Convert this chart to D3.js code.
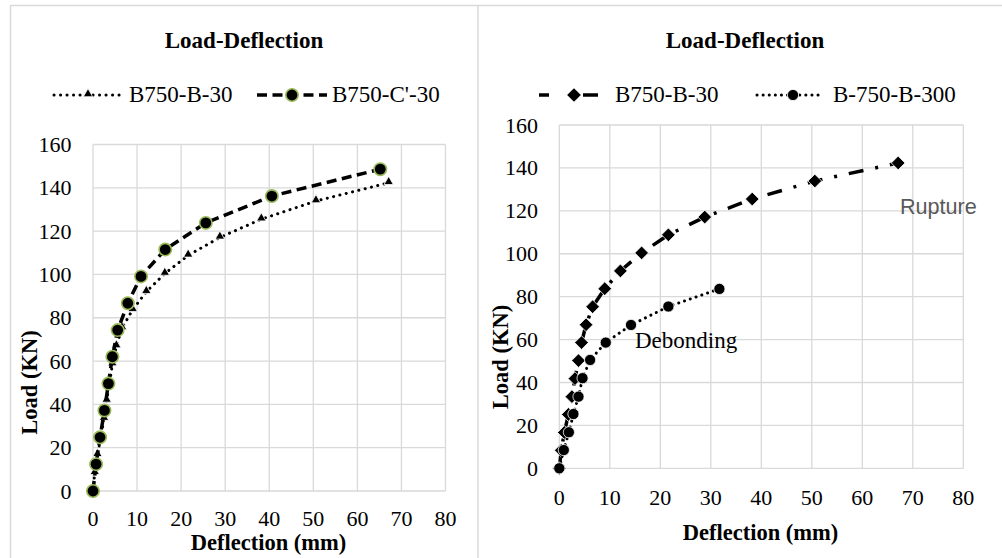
<!DOCTYPE html>
<html>
<head>
<meta charset="utf-8">
<script src="https://cdn.jsdelivr.net/npm/d3@7"></script>
<style>
  html, body { margin: 0; padding: 0; background: #fff; }
  svg { display: block; }
  text { font-family: "Liberation Serif", "Times New Roman", serif; fill: #000; }
</style>
</head>
<body>
<svg id="chart" width="1002" height="558"></svg>
<script>
// ---------- data ----------
const xTicks = [0, 10, 20, 30, 40, 50, 60, 70, 80];
const yTicks = [0, 20, 40, 60, 80, 100, 120, 140, 160];

// B750-B-30 (appears in both charts)
const b30Defl = [0, 0.4, 1.0, 1.8, 2.5, 3.1, 3.8, 4.4, 5.3, 6.6, 9.0, 12.1, 16.3, 21.6, 28.8, 38.2, 50.6, 67.1];
const b30Load = [0, 8.4, 16.7, 25.1, 33.4, 41.8, 50.2, 58.6, 66.9, 75.3, 83.7, 92.0, 100.4, 108.8, 117.1, 125.5, 133.9, 142.3];

// B750-C'-30
const c30Defl = [0, 0.7, 1.6, 2.6, 3.5, 4.4, 5.6, 7.9, 10.9, 16.4, 25.6, 40.6, 65.2];
const c30Load = [0, 12.4, 24.8, 37.2, 49.6, 62.0, 74.3, 86.7, 99.1, 111.5, 123.8, 136.2, 148.6];

// B-750-B-300
const b300Defl = [0, 0.9, 1.9, 2.8, 3.8, 4.6, 6.1, 9.2, 14.2, 21.6, 31.7];
const b300Load = [0, 8.5, 16.8, 25.3, 33.4, 42.0, 50.5, 58.6, 66.8, 75.4, 83.6];

const titleText = "Load-Deflection";
const xTitle = "Deflection (mm)";
const yTitle = "Load (KN)";
const leftSeriesNames = ["B750-B-30", "B750-C'-30"];
const rightSeriesNames = ["B750-B-30", "B-750-B-300"];

const zip = (xs, ys) => xs.map((x, i) => [x, ys[i]]);

// ---------- drawing ----------
const svg = d3.select("#chart");
const gridColor = "#d9d9d9";
const FS = 23;      // titles / legend
const FT = 22;      // tick labels
const FA = 22.5;    // axis titles

// outer frame
svg.append("line").attr("x1", 10).attr("x2", 1002).attr("y1", 5.5).attr("y2", 5.5)
  .attr("stroke", gridColor).attr("stroke-width", 1.5);
svg.append("line").attr("x1", 10.5).attr("x2", 10.5).attr("y1", 5).attr("y2", 558)
  .attr("stroke", gridColor).attr("stroke-width", 1.5);
svg.append("line").attr("x1", 478).attr("x2", 478).attr("y1", 5).attr("y2", 558)
  .attr("stroke", gridColor).attr("stroke-width", 1.5);

function panel(cfg) {
  const x = d3.scaleLinear().domain([0, 80]).range(cfg.xr);
  const y = d3.scaleLinear().domain([0, 160]).range(cfg.yr);
  const g = svg.append("g");

  // grid
  g.selectAll(".vg").data(xTicks).join("line")
    .attr("x1", d => x(d)).attr("x2", d => x(d))
    .attr("y1", y(0)).attr("y2", y(160))
    .attr("stroke", gridColor).attr("stroke-width", 1.3);
  g.selectAll(".hg").data(yTicks).join("line")
    .attr("x1", x(0)).attr("x2", x(80))
    .attr("y1", d => y(d)).attr("y2", d => y(d))
    .attr("stroke", gridColor).attr("stroke-width", 1.3);

  // tick labels
  g.selectAll(".xl").data(xTicks).join("text")
    .attr("x", d => x(d)).attr("y", cfg.xLabBase)
    .attr("text-anchor", "middle").attr("font-size", FT).text(d => d);
  g.selectAll(".yl").data(yTicks).join("text")
    .attr("x", cfg.yLabRight).attr("y", d => y(d) + 7.5)
    .attr("text-anchor", "end").attr("font-size", FT).text(d => d);

  // titles
  g.append("text").attr("x", cfg.titleX).attr("y", 48)
    .attr("text-anchor", "middle").attr("font-size", FS).attr("font-weight", "bold").text(titleText);
  g.append("text").attr("x", cfg.xTitleX).attr("y", cfg.xTitleY)
    .attr("text-anchor", "middle").attr("font-size", FA).attr("font-weight", "bold").text(xTitle);
  g.append("text").attr("transform", `translate(${cfg.yTitleX},${cfg.yTitleY}) rotate(-90)`)
    .attr("text-anchor", "middle").attr("font-size", FA).attr("font-weight", "bold").text(yTitle);

  return { x, y, g };
}

const line = (x, y) => d3.line().x(d => x(d[0])).y(d => y(d[1]));

// ===== Left chart =====
const L = panel({
  xr: [93, 445.5], yr: [491, 144.5],
  xLabBase: 525.5, yLabRight: 71.5,
  titleX: 244, xTitleX: 268.5, xTitleY: 550,
  yTitleX: 36.5, yTitleY: 382.5
});
const triSym = d3.symbol().type(d3.symbolTriangle).size(38);
const dataB30 = zip(b30Defl, b30Load);
const dataC30 = zip(c30Defl, c30Load);

// B750-B-30 dotted with triangles
L.g.append("path").datum(dataB30).attr("d", line(L.x, L.y))
  .attr("fill", "none").attr("stroke", "#000").attr("stroke-width", 3)
  .attr("stroke-linecap", "round").attr("stroke-dasharray", "0.1 6.4");
L.g.selectAll(".tri").data(dataB30).join("path")
  .attr("d", triSym).attr("transform", d => `translate(${L.x(d[0])},${L.y(d[1]) - 1})`)
  .attr("fill", "#000").attr("stroke", "#fff").attr("stroke-width", 0.8);

// B750-C'-30 dashed with circles
L.g.append("path").datum(dataC30).attr("d", line(L.x, L.y))
  .attr("fill", "none").attr("stroke", "#000").attr("stroke-width", 3.5)
  .attr("stroke-dasharray", "10 5.5");
L.g.selectAll(".circ").data(dataC30).join("circle")
  .attr("cx", d => L.x(d[0])).attr("cy", d => L.y(d[1])).attr("r", 6.2)
  .attr("fill", "#000").attr("stroke", "#9bbb59").attr("stroke-width", 1.6);

// left legend
const ly = 95;
L.g.append("line").attr("x1", 54).attr("x2", 122).attr("y1", ly).attr("y2", ly)
  .attr("stroke", "#000").attr("stroke-width", 3).attr("stroke-linecap", "round")
  .attr("stroke-dasharray", "0.1 6.4");
L.g.append("path").attr("d", triSym).attr("transform", `translate(88,${ly - 1})`)
  .attr("fill", "#000").attr("stroke", "#fff").attr("stroke-width", 0.8);
L.g.append("text").attr("x", 129).attr("y", 101.5).attr("font-size", FS).text(leftSeriesNames[0]);
L.g.append("line").attr("x1", 257).attr("x2", 327).attr("y1", ly).attr("y2", ly)
  .attr("stroke", "#000").attr("stroke-width", 3.5).attr("stroke-dasharray", "10 5.5");
L.g.append("circle").attr("cx", 292).attr("cy", ly).attr("r", 6.2)
  .attr("fill", "#000").attr("stroke", "#9bbb59").attr("stroke-width", 1.6);
L.g.append("text").attr("x", 332).attr("y", 101.5).attr("font-size", FS).text(leftSeriesNames[1]);

// ===== Right chart =====
const R = panel({
  xr: [559.3, 963.3], yr: [468.3, 125],
  xLabBase: 505, yLabRight: 538,
  titleX: 745, xTitleX: 760.5, xTitleY: 540,
  yTitleX: 508, yTitleY: 357
});
const diaSym = d3.symbol().type(d3.symbolDiamond2).size(120);
const dataB300 = zip(b300Defl, b300Load);

// B750-B-30 dash-dot with diamonds
R.g.append("path").datum(dataB30).attr("d", line(R.x, R.y))
  .attr("fill", "none").attr("stroke", "#000").attr("stroke-width", 3.5)
  .attr("stroke-dasharray", "15 12 3 12");
R.g.selectAll(".dia").data(dataB30).join("path")
  .attr("d", diaSym).attr("transform", d => `translate(${R.x(d[0])},${R.y(d[1])})`)
  .attr("fill", "#000").attr("stroke", "#fff").attr("stroke-width", 0.8);

// B-750-B-300 dotted with circles
R.g.append("path").datum(dataB300).attr("d", line(R.x, R.y))
  .attr("fill", "none").attr("stroke", "#000").attr("stroke-width", 3)
  .attr("stroke-linecap", "round").attr("stroke-dasharray", "0.1 6");
R.g.selectAll(".c300").data(dataB300).join("circle")
  .attr("cx", d => R.x(d[0])).attr("cy", d => R.y(d[1])).attr("r", 5.6)
  .attr("fill", "#000").attr("stroke", "#fff").attr("stroke-width", 0.8);

// annotations
R.g.append("text").attr("x", 900).attr("y", 214).attr("font-size", 21.6)
  .style("font-family", "'Liberation Sans', Arial, sans-serif").style("fill", "#595959").text("Rupture");
R.g.append("text").attr("x", 635).attr("y", 347.5).attr("font-size", FS).text("Debonding");

// right legend
const ry = 95;
R.g.append("line").attr("x1", 539).attr("x2", 549).attr("y1", ry).attr("y2", ry)
  .attr("stroke", "#000").attr("stroke-width", 3.5);
R.g.append("line").attr("x1", 583).attr("x2", 598).attr("y1", ry).attr("y2", ry)
  .attr("stroke", "#000").attr("stroke-width", 3.5);
R.g.append("path").attr("d", diaSym).attr("transform", `translate(574,${ry})`)
  .attr("fill", "#000");
R.g.append("text").attr("x", 615).attr("y", 101.5).attr("font-size", FS).text(rightSeriesNames[0]);
R.g.append("line").attr("x1", 757).attr("x2", 821).attr("y1", ry).attr("y2", ry)
  .attr("stroke", "#000").attr("stroke-width", 3).attr("stroke-linecap", "round")
  .attr("stroke-dasharray", "0.1 6");
R.g.append("circle").attr("cx", 793).attr("cy", ry).attr("r", 5.6).attr("fill", "#000")
  .attr("stroke", "#fff").attr("stroke-width", 0.8);
R.g.append("text").attr("x", 833).attr("y", 101.5).attr("font-size", FS).text(rightSeriesNames[1]);
</script>
</body>
</html>
